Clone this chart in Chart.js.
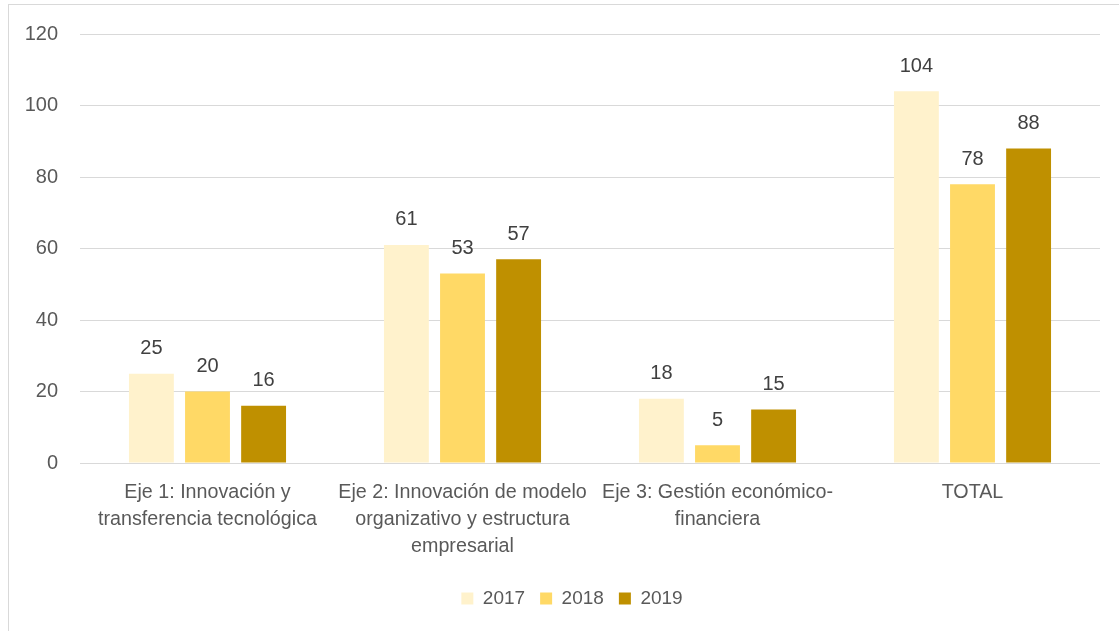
<!DOCTYPE html>
<html>
<head>
<meta charset="utf-8">
<script src="https://cdn.jsdelivr.net/npm/chart.js@4/dist/chart.umd.min.js"></script>
<style>
  html, body { margin: 0; padding: 0; background: #fff; }
  #wrap { position: relative; width: 1119px; height: 631px; overflow: hidden; }
  #frame { position: absolute; left: 8px; top: 4px; width: 1200px; height: 700px; border: 1px solid #d9d9d9; box-sizing: border-box; pointer-events: none; }
  canvas { position: absolute; left: 0; top: 0; }
</style>
</head>
<body>
<div id="wrap">
  <div id="frame"></div>
  <canvas id="c" width="1119" height="631"></canvas>
</div>
<script>
const categories = [
  ["Eje 1: Innovación y", "transferencia tecnológica"],
  ["Eje 2: Innovación de modelo", "organizativo y estructura", "empresarial"],
  ["Eje 3: Gestión económico-", "financiera"],
  "TOTAL"
];
const seriesNames = ["2017", "2018", "2019"];
const values2017 = [25, 61, 18, 104];
const values2018 = [20, 53, 5, 78];
const values2019 = [16, 57, 15, 88];
const yTicks = [0, 20, 40, 60, 80, 100, 120];

const colors = ["#FFF2CC", "#FFD966", "#BF9000"];
const FONT = "'Liberation Sans Narrow', 'Arial Narrow', 'Liberation Sans', Arial, sans-serif";

const valueLabels = {
  id: 'valueLabels',
  afterDatasetsDraw(chart) {
    const ctx = chart.ctx;
    ctx.save();
    ctx.font = "20px " + FONT;
    ctx.fillStyle = "#404040";
    ctx.textAlign = "center";
    ctx.textBaseline = "middle";
    chart.data.datasets.forEach((ds, di) => {
      const meta = chart.getDatasetMeta(di);
      meta.data.forEach((bar, i) => {
        ctx.fillText(String(ds.data[i]), bar.x, bar.y - 25);
      });
    });
    ctx.restore();
  }
};

// shift the legend so it is centred like in the reference
const legendShift = {
  id: 'legendShift',
  afterLayout(chart) {
    const l = chart.legend;
    if (l) { l.left += 22; l.right += 22; }
  }
};

new Chart(document.getElementById('c'), {
  type: 'bar',
  data: {
    labels: categories,
    datasets: [
      { label: seriesNames[0], data: values2017, backgroundColor: colors[0] },
      { label: seriesNames[1], data: values2018, backgroundColor: colors[1] },
      { label: seriesNames[2], data: values2019, backgroundColor: colors[2] }
    ]
  },
  options: {
    responsive: false,
    animation: false,
    devicePixelRatio: 1,
    layout: { padding: { left: 0, right: 19, top: 34, bottom: 13 } },
    datasets: { bar: { categoryPercentage: 0.66, barPercentage: 0.8 } },
    scales: {
      x: {
        grid: { display: false, drawTicks: false },
        border: { display: false },
        ticks: {
          color: "#595959",
          font: { family: FONT, size: 19.7, lineHeight: 1.37 },
          padding: 16,
          maxRotation: 0,
          minRotation: 0,
          autoSkip: false
        },
        afterFit(scale) { scale.height = 111; }
      },
      y: {
        min: 0,
        max: 120,
        afterBuildTicks(scale) { scale.ticks = yTicks.map(v => ({ value: v })); },
        grid: { color: "#d9d9d9", lineWidth: 1, drawTicks: false },
        border: { display: false },
        ticks: {
          color: "#595959",
          font: { family: FONT, size: 20 },
          padding: 22
        },
        afterFit(scale) { scale.width = 80; }
      }
    },
    plugins: {
      legend: {
        position: 'bottom',
        labels: {
          color: "#595959",
          font: { family: FONT, size: 19 },
          boxWidth: 12,
          boxHeight: 12,
          padding: 15
        }
      },
      tooltip: { enabled: false },
      title: { display: false }
    }
  },
  plugins: [valueLabels, legendShift]
});
</script>
</body>
</html>
